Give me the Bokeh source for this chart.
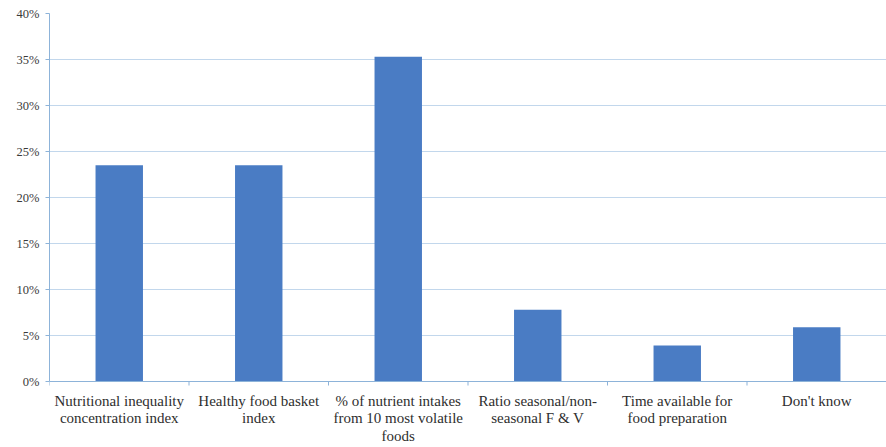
from bokeh.plotting import figure
from bokeh.models import Range1d, FixedTicker, PrintfTickFormatter, ColumnDataSource, LabelSet
from bokeh.embed import file_html
from bokeh.resources import INLINE

categories = [
    "Nutritional inequality\nconcentration index",
    "Healthy food basket\nindex",
    "% of nutrient intakes\nfrom 10 most volatile\nfoods",
    "Ratio seasonal/non-\nseasonal F & V",
    "Time available for\nfood preparation",
    "Don't know",
]
values = [23.5, 23.5, 35.3, 7.8, 3.9, 5.9]
y_ticks = [0, 5, 10, 15, 20, 25, 30, 35, 40]

SERIF = "'Liberation Serif', serif"
AXIS_COLOR = "#8db3d9"
GRID_COLOR = "#c2d7ec"
LINE_GAP = 17.5

n = len(categories)
centers = [i + 0.5 for i in range(n)]
bounds = list(range(n + 1))

# pixel layout: data band 0..40 is 368 px tall; 66 px kept below 0 for the category labels
W, H = 886, 447
TOP = 13
Y_MAX = 40
PX_DATA = 368
PX_BELOW = H - TOP - PX_DATA
y_start = -Y_MAX * PX_BELOW / PX_DATA
px_per_unit = PX_DATA / Y_MAX

p = figure(width=W, height=H, output_backend="svg", toolbar_location=None,
           x_range=Range1d(0, n), y_range=Range1d(y_start, Y_MAX),
           min_border_left=49, min_border_right=0, min_border_top=TOP, min_border_bottom=0)
p.outline_line_color = None
p.background_fill_color = "white"
p.xaxis.visible = False

p.xgrid.grid_line_color = None
p.ygrid.grid_line_color = GRID_COLOR
p.ygrid.ticker = FixedTicker(ticks=y_ticks)

src = ColumnDataSource(dict(x=centers, top=values))
p.vbar(x="x", top="top", width=0.34, bottom=0, source=src,
       fill_color="#4a7cc4", line_color=None)

# category axis baseline and boundary ticks
p.segment(x0=[0], y0=[0], x1=[n], y1=[0], line_color=AXIS_COLOR, line_width=1)
p.segment(x0=bounds, y0=[0] * len(bounds), x1=bounds,
          y1=[-4 / px_per_unit] * len(bounds), line_color=AXIS_COLOR, line_width=1)

# category labels, one centered line each
lx, ly, lt = [], [], []
for c, cat in zip(centers, categories):
    for i, line in enumerate(cat.split("\n")):
        lx.append(c)
        ly.append(PX_BELOW - 19 - LINE_GAP * i)
        lt.append(line)
lsrc = ColumnDataSource(dict(x=lx, y=ly, text=lt))
p.add_layout(LabelSet(x="x", y="y", y_units="screen", text="text", source=lsrc,
                      text_align="center", text_baseline="middle",
                      text_font=SERIF, text_font_size="15px",
                      text_color="#2e2e2e"))

# y axis
p.yaxis.bounds = (0, Y_MAX)
p.yaxis.ticker = FixedTicker(ticks=y_ticks)
p.yaxis.formatter = PrintfTickFormatter(format="%d%%")
p.yaxis.minor_tick_line_color = None
p.yaxis.major_tick_out = 4
p.yaxis.major_tick_in = 0
p.yaxis.major_tick_line_color = AXIS_COLOR
p.yaxis.axis_line_color = AXIS_COLOR
p.yaxis.major_label_text_font = SERIF
p.yaxis.major_label_text_font_size = "12.5px"
p.yaxis.major_label_text_color = "#3a3a3a"
p.yaxis.major_label_standoff = 6

open("out.html", "w").write(file_html(p, INLINE))
